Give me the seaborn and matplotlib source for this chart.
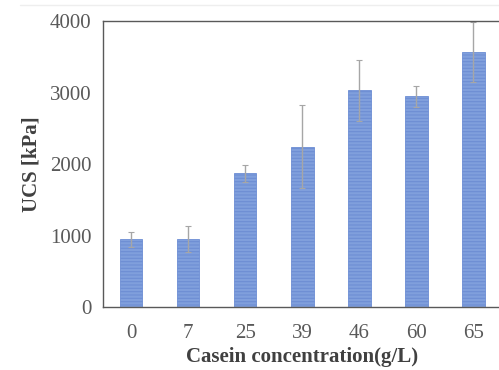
import matplotlib
matplotlib.use("Agg")
import matplotlib.pyplot as plt
import seaborn as sns
import pandas as pd

# 数据
concentration = ["0", "7", "25", "39", "46", "60", "65"]
ucs_mean = [950, 950, 1870, 2240, 3030, 2950, 3570]
ucs_err = [105, 180, 115, 580, 430, 145, 420]

df = pd.DataFrame({"conc": concentration, "ucs": ucs_mean})

sns.set_style("white")
plt.rcParams['font.family'] = ['Liberation Serif', 'DejaVu Serif']
plt.rcParams['hatch.linewidth'] = 0.8

fig = plt.figure(figsize=(4.99, 3.70), dpi=100)
ax = fig.add_axes([0.206, 0.170, 0.80, 0.773])

sns.barplot(data=df, x="conc", y="ucs", color="#809fdc", width=0.39,
            saturation=1, errorbar=None, ax=ax)
for p in ax.patches:
    p.set_hatch("-----")
    p.set_edgecolor("#6d8ed4")
    p.set_linewidth(0.6)

ax.errorbar(range(len(concentration)), ucs_mean, yerr=ucs_err, fmt="none",
            ecolor="#a6a6a6", elinewidth=1.0, capsize=2, capthick=0.8)

ax.set_ylim(0, 4000)
ax.set_xlim(-0.5, 6.5)
ax.set_yticks([0, 1000, 2000, 3000, 4000])
ax.tick_params(axis="both", length=0, labelsize=15, colors="#595959", pad=8)
ax.tick_params(axis="x", pad=12)

ax.set_xlabel("Casein concentration(g/L)", fontsize=15, fontweight="bold",
              color="#404040", labelpad=3)
ax.set_ylabel("UCS [kPa]", fontsize=15, fontweight="bold", color="#404040",
              labelpad=6)

for side in ["left", "bottom", "top"]:
    ax.spines[side].set_color("#595959")
    ax.spines[side].set_linewidth(1.0)
ax.spines["right"].set_visible(False)

# 顶部浅灰线
fig.add_artist(plt.Line2D([0.04, 1.0], [0.987, 0.987], color="#eeeeee",
                          lw=1.0, transform=fig.transFigure))

fig.savefig("out.png", dpi=100)
